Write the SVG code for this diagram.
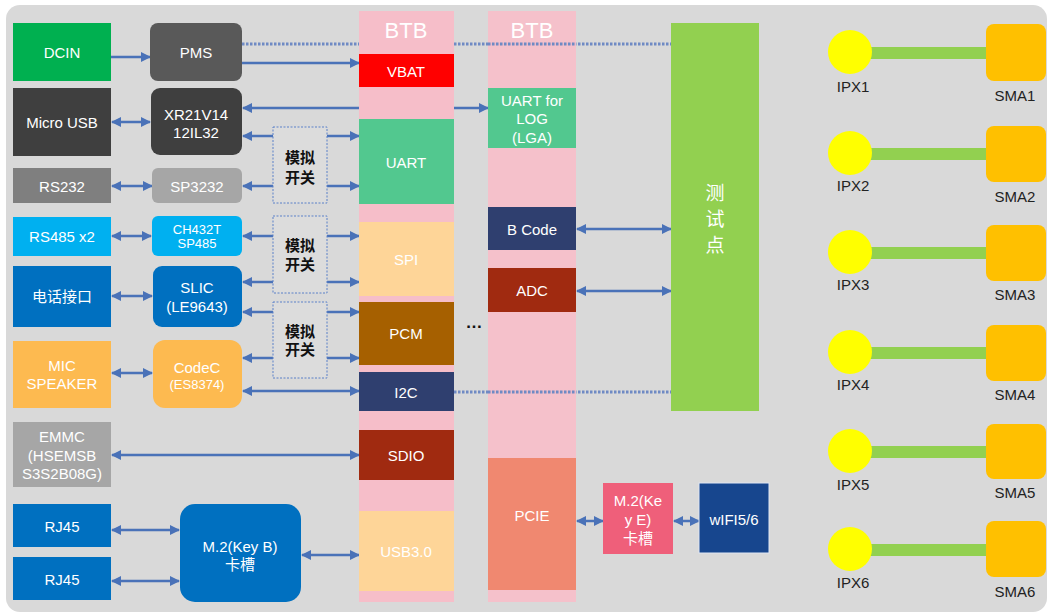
<svg xmlns="http://www.w3.org/2000/svg" width="1049" height="614" viewBox="0 0 1049 614">
<defs>
<style>
text{font-family:"Liberation Sans","Noto Sans CJK SC",sans-serif;font-size:15px;fill:#fff;text-anchor:middle;dominant-baseline:central}
.sm{font-size:13px}
.btb{font-size:22px}
.sw{font-size:15px;font-weight:bold;fill:#111}
.dk{fill:#222;font-size:15px}
.tp{font-size:19px}
.cb{stroke:#4a72b8;stroke-width:2.5;fill:none;marker-end:url(#a);marker-start:url(#b)}
.ce{stroke:#4a72b8;stroke-width:2.5;fill:none;marker-end:url(#a)}
.dot{stroke:#6f8ac4;stroke-width:3;stroke-dasharray:2.5 1.5;fill:none}
.swb{fill:#dcdcdc;stroke:#5b80c8;stroke-width:1;stroke-dasharray:2 1.5}
</style>
<marker id="a" viewBox="0 0 10 10" refX="9" refY="5" markerWidth="4" markerHeight="4" orient="auto" markerUnits="strokeWidth"><path d="M0,0L10,5L0,10z" fill="#4a72b8"/></marker>
<marker id="b" viewBox="0 0 10 10" refX="1" refY="5" markerWidth="4" markerHeight="4" orient="auto" markerUnits="strokeWidth"><path d="M10,0L0,5L10,10z" fill="#4a72b8"/></marker>
</defs>
<rect x="0" y="0" width="1049" height="614" fill="#fff"/>
<rect x="6" y="5" width="1041" height="607" rx="14" fill="#d9d9d9"/>

<g id="btb1"><rect x="359" y="11" width="95" height="591" fill="#f6bec9"/><text class="btb" x="406" y="30">BTB</text></g>
<g id="connectors">
<line class="dot" x1="242" y1="44" x2="359" y2="44"/>
<line class="dot" x1="454" y1="44" x2="671" y2="44"/>
<line class="dot" x1="454" y1="392" x2="671" y2="392"/>
<line class="ce" x1="111" y1="57" x2="150" y2="57"/>
<line class="ce" x1="242" y1="63" x2="359" y2="63"/>
<line class="ce" x1="359" y1="108" x2="243" y2="108"/>
<line class="ce" x1="454" y1="108" x2="488" y2="108"/>
<line class="cb" x1="112" y1="122" x2="150" y2="122"/>
<line class="ce" x1="273" y1="136" x2="243" y2="136"/>
<line class="ce" x1="327" y1="136" x2="359" y2="136"/>
<line class="cb" x1="112" y1="186" x2="152" y2="186"/>
<line class="ce" x1="273" y1="186" x2="243" y2="186"/>
<line class="ce" x1="327" y1="186" x2="359" y2="186"/>
<line class="cb" x1="112" y1="236" x2="151" y2="236"/>
<line class="ce" x1="273" y1="236" x2="243" y2="236"/>
<line class="ce" x1="327" y1="236" x2="359" y2="236"/>
<line class="ce" x1="273" y1="282" x2="243" y2="282"/>
<line class="ce" x1="327" y1="282" x2="359" y2="282"/>
<line class="cb" x1="112" y1="296" x2="152" y2="296"/>
<line class="ce" x1="273" y1="312" x2="243" y2="312"/>
<line class="ce" x1="327" y1="312" x2="359" y2="312"/>
<line class="ce" x1="273" y1="358" x2="243" y2="358"/>
<line class="ce" x1="327" y1="358" x2="359" y2="358"/>
<line class="cb" x1="112" y1="373" x2="152" y2="373"/>
<line class="cb" x1="243" y1="391" x2="359" y2="391"/>
<line class="cb" x1="112" y1="455" x2="359" y2="455"/>
<line class="cb" x1="112" y1="530" x2="179" y2="530"/>
<line class="cb" x1="112" y1="581" x2="179" y2="581"/>
<line class="cb" x1="302" y1="555" x2="359" y2="555"/>
<line class="cb" x1="577" y1="229" x2="671" y2="229"/>
<line class="cb" x1="577" y1="291" x2="671" y2="291"/>
<line class="cb" x1="577" y1="521" x2="603" y2="521"/>
<line class="cb" x1="674" y1="521" x2="699" y2="521"/>
</g>

<g id="dcin"><rect x="13" y="23" width="98" height="58" fill="#00b050"/><text x="62" y="52">DCIN</text></g>
<g id="microusb"><rect x="13" y="88" width="98" height="68" fill="#3f3f3f"/><text x="62" y="122">Micro USB</text></g>
<g id="rs232"><rect x="13" y="168" width="98" height="35" fill="#7f7f7f"/><text x="62" y="186">RS232</text></g>
<g id="rs485"><rect x="13" y="217" width="98" height="39" fill="#00b0f0"/><text x="62" y="236">RS485 x2</text></g>
<g id="phone"><rect x="13" y="266" width="98" height="61" fill="#0070c0"/><text x="62" y="296">电话接口</text></g>
<g id="mic"><rect x="13" y="341" width="98" height="67" fill="#fdba50"/><text x="62" y="365">MIC</text><text x="62" y="383">SPEAKER</text></g>
<g id="emmc"><rect x="13" y="422" width="98" height="65" fill="#a6a6a6"/><text x="62" y="436">EMMC</text><text x="62" y="455">(HSEMSB</text><text x="62" y="473">S3S2B08G)</text></g>
<g id="rj45a"><rect x="13" y="504" width="98" height="43" fill="#0070c0"/><text x="62" y="526">RJ45</text></g>
<g id="rj45b"><rect x="13" y="557" width="98" height="43" fill="#0070c0"/><text x="62" y="579">RJ45</text></g>

<g id="pms"><rect x="150" y="23" width="92" height="58" rx="8" fill="#595959"/><text x="196" y="52">PMS</text></g>
<g id="xr21"><rect x="151" y="88" width="91" height="67" rx="9" fill="#3f3f3f"/><text x="196" y="114">XR21V14</text><text x="196" y="132">12IL32</text></g>
<g id="sp3232"><rect x="152" y="168" width="90" height="35" rx="6" fill="#a6a6a6"/><text x="197" y="186">SP3232</text></g>
<g id="ch432"><rect x="152" y="216" width="90" height="40" rx="6" fill="#00b0f0"/><text class="sm" x="197" y="229">CH432T</text><text class="sm" x="197" y="243">SP485</text></g>
<g id="slic"><rect x="153" y="266" width="89" height="61" rx="9" fill="#0070c0"/><text x="197" y="287">SLIC</text><text x="197" y="306">(LE9643)</text></g>
<g id="codec"><rect x="153" y="340" width="89" height="68" rx="12" fill="#fdba50"/><text x="197" y="367">CodeC</text><text class="sm" x="197" y="384">(ES8374)</text></g>
<g id="m2b"><rect x="180" y="504" width="121" height="98" rx="15" fill="#0070c0"/><text x="240" y="546">M.2(Key B)</text><text x="240" y="564">卡槽</text></g>

<g id="sw1"><rect class="swb" x="273" y="127" width="54" height="76"/><text class="sw" x="300" y="157">模拟</text><text class="sw" x="300" y="177">开关</text></g>
<g id="sw2"><rect class="swb" x="273" y="216" width="54" height="77"/><text class="sw" x="300" y="245">模拟</text><text class="sw" x="300" y="264">开关</text></g>
<g id="sw3"><rect class="swb" x="273" y="302" width="54" height="76"/><text class="sw" x="300" y="331">模拟</text><text class="sw" x="300" y="349">开关</text></g>

<g id="vbat"><rect x="359" y="54" width="95" height="33" fill="#ff0000"/><text x="406" y="71">VBAT</text></g>
<g id="uart"><rect x="359" y="119" width="95" height="85" fill="#52c88f"/><text x="406" y="162">UART</text></g>
<g id="spi"><rect x="359" y="222" width="95" height="74" fill="#fed598"/><text x="406" y="259">SPI</text></g>
<g id="pcm"><rect x="359" y="302" width="95" height="63" fill="#a66000"/><text x="406" y="333">PCM</text></g>
<g id="i2c"><rect x="359" y="372" width="95" height="39" fill="#2f3f6f"/><text x="406" y="392">I2C</text></g>
<g id="sdio"><rect x="359" y="430" width="95" height="50" fill="#a02a10"/><text x="406" y="455">SDIO</text></g>
<g id="usb3"><rect x="359" y="511" width="95" height="80" fill="#fed598"/><text x="406" y="551">USB3.0</text></g>

<g id="btb2"><rect x="488" y="11" width="88" height="591" fill="#f6bec9" fill-opacity="0.93"/><text class="btb" x="532" y="30">BTB</text></g>
<line class="dot" x1="488" y1="44" x2="576" y2="44"/>
<line class="dot" x1="488" y1="392" x2="576" y2="392"/>
<g id="uartlog"><rect x="488" y="88" width="88" height="60" fill="#52c88f"/><text x="532" y="100">UART for</text><text x="532" y="118">LOG</text><text x="532" y="137">(LGA)</text></g>
<g id="bcode"><rect x="488" y="207" width="88" height="43" fill="#2f3f6f"/><text x="532" y="229">B Code</text></g>
<g id="adc"><rect x="488" y="268" width="88" height="44" fill="#a02a10"/><text x="532" y="290">ADC</text></g>
<g id="pcie"><rect x="488" y="458" width="88" height="132" fill="#f08870"/><text x="532" y="515">PCIE</text></g>
<text x="474" y="322" style="fill:#111;font-size:17px;font-weight:bold">…</text>

<g id="testpoint"><rect x="671" y="23" width="88" height="388" fill="#92d050"/><text class="tp" x="715" y="193">测</text><text class="tp" x="715" y="219">试</text><text class="tp" x="715" y="245">点</text></g>
<g id="m2e"><rect x="603" y="483" width="70" height="71" fill="#ef5f7a"/><text x="638" y="500">M.2(Ke</text><text x="638" y="519">y E)</text><text x="638" y="538">卡槽</text></g>
<g id="wifi"><rect x="699" y="483" width="70" height="70" fill="#17468e" stroke="#dfe6f3" stroke-width="1"/><text x="734" y="519">wIFI5/6</text></g>

<g id="rf1"><rect x="850" y="47" width="136" height="12" fill="#92d050"/><circle cx="850" cy="52" r="22" fill="#ffff00"/><rect x="986" y="24" width="60" height="57" rx="8" fill="#ffc000"/><text class="dk" x="853" y="86">IPX1</text><text class="dk" x="1015" y="95">SMA1</text></g>
<g id="rf2"><rect x="850" y="148" width="136" height="12" fill="#92d050"/><circle cx="850" cy="153" r="22" fill="#ffff00"/><rect x="986" y="126" width="60" height="56" rx="8" fill="#ffc000"/><text class="dk" x="853" y="185">IPX2</text><text class="dk" x="1015" y="196">SMA2</text></g>
<g id="rf3"><rect x="850" y="247" width="136" height="12" fill="#92d050"/><circle cx="850" cy="252" r="22" fill="#ffff00"/><rect x="986" y="225" width="60" height="56" rx="8" fill="#ffc000"/><text class="dk" x="853" y="284">IPX3</text><text class="dk" x="1015" y="294">SMA3</text></g>
<g id="rf4"><rect x="850" y="347" width="136" height="12" fill="#92d050"/><circle cx="850" cy="352" r="22" fill="#ffff00"/><rect x="986" y="325" width="60" height="56" rx="8" fill="#ffc000"/><text class="dk" x="853" y="384">IPX4</text><text class="dk" x="1015" y="394">SMA4</text></g>
<g id="rf5"><rect x="850" y="446" width="136" height="12" fill="#92d050"/><circle cx="850" cy="451" r="22" fill="#ffff00"/><rect x="986" y="424" width="60" height="55" rx="8" fill="#ffc000"/><text class="dk" x="853" y="484">IPX5</text><text class="dk" x="1015" y="492">SMA5</text></g>
<g id="rf6"><rect x="850" y="544" width="136" height="12" fill="#92d050"/><circle cx="850" cy="549" r="22" fill="#ffff00"/><rect x="986" y="521" width="60" height="56" rx="8" fill="#ffc000"/><text class="dk" x="853" y="582">IPX6</text><text class="dk" x="1015" y="591">SMA6</text></g>
</svg>
